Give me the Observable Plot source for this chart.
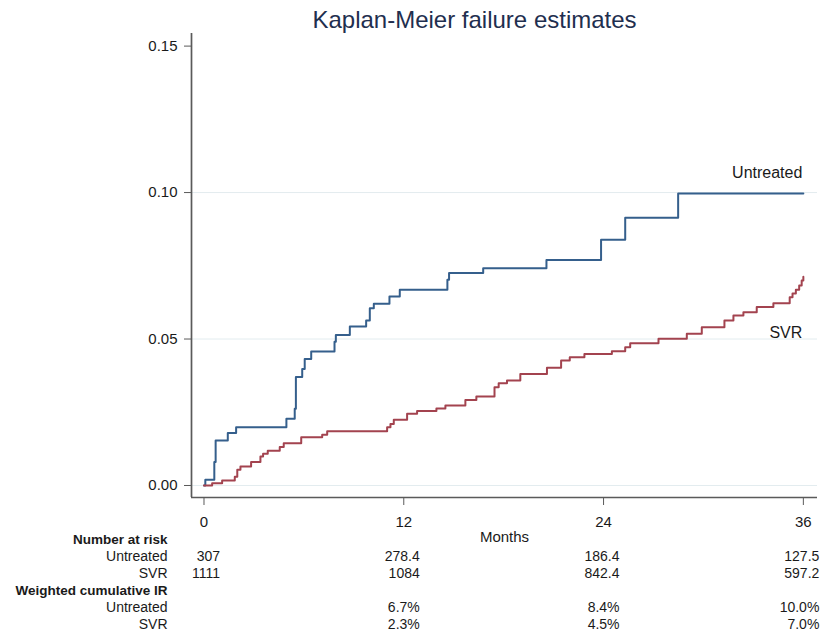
<!DOCTYPE html>
<html><head><meta charset="utf-8">
<script src="https://cdn.jsdelivr.net/npm/d3@7"></script>
<script src="https://cdn.jsdelivr.net/npm/@observablehq/plot@0.6"></script>
<style>body{margin:0;background:#fff} #chart{position:absolute;left:0;top:0}</style>
</head><body><div id="chart"></div>
<script>
// ---- data ----
const untreatedMonths = [0, 0.08, 0.62, 0.70, 1.43, 1.93, 4.95, 5.45, 5.52, 5.90, 6.05, 6.44, 7.84, 7.92, 8.76, 9.74, 9.96, 10.20, 11.14, 11.76, 14.62, 14.72, 16.77, 20.57, 23.85, 25.30, 28.48, 36.00];
const untreatedFailure = [0, 0.002, 0.008, 0.0154, 0.0179, 0.0199, 0.0228, 0.0262, 0.0370, 0.0398, 0.0432, 0.0457, 0.0491, 0.0514, 0.0543, 0.0563, 0.0605, 0.0620, 0.0645, 0.0668, 0.0702, 0.0725, 0.0742, 0.0770, 0.0839, 0.0914, 0.0997, 0.0997];
const svrMonths = [0, 0.49, 1.09, 1.85, 2.00, 2.19, 2.83, 3.39, 3.55, 3.83, 4.55, 4.79, 5.84, 7.10, 7.40, 11.00, 11.20, 11.40, 12.20, 12.80, 13.96, 14.50, 15.70, 16.36, 17.45, 17.70, 18.20, 19.00, 20.60, 21.45, 21.97, 22.85, 24.50, 25.30, 25.60, 27.30, 29.00, 29.90, 31.26, 31.80, 32.40, 33.20, 34.20, 35.18, 35.35, 35.55, 35.75, 35.90, 36.00];
const svrFailure = [0, 0.0008, 0.0017, 0.0030, 0.0054, 0.0065, 0.0080, 0.0099, 0.0108, 0.0119, 0.0131, 0.0144, 0.0165, 0.0173, 0.0185, 0.0199, 0.0210, 0.0224, 0.0245, 0.0254, 0.0263, 0.0273, 0.0292, 0.0304, 0.0335, 0.0349, 0.0358, 0.0381, 0.0402, 0.0427, 0.0438, 0.0449, 0.0458, 0.0472, 0.0486, 0.0501, 0.0518, 0.0540, 0.0563, 0.0580, 0.0591, 0.0609, 0.0622, 0.0643, 0.0655, 0.0668, 0.0683, 0.0700, 0.0713];
const seriesNames = ["Untreated", "SVR"];
const labelMonths = [36, 36];
const labelValues = [0.1068, 0.0522];
const yTicks = [0, 0.05, 0.10, 0.15];
const gridTicks = [0, 0.05, 0.10];
const xTicks = [0, 12, 24, 36];
const riskMonths = [0, 12, 24, 36];
const riskUntreated = ["307", "278.4", "186.4", "127.5"];
const riskSVR = ["1111", "1084", "842.4", "597.2"];
const irMonths = [12, 24, 36];
const irUntreated = ["6.7%", "8.4%", "10.0%"];
const irSVR = ["2.3%", "4.5%", "7.0%"];
const rowLabels = ["Number at risk", "Untreated", "SVR", "Weighted cumulative IR", "Untreated", "SVR"];
const rowBold = [true, false, false, true, false, false];
const titleText = "Kaplan-Meier failure estimates";
const xLabel = "Months";

// ---- build tables ----
const lineData = [
  ...untreatedMonths.map((m, i) => ({series: "Untreated", month: m, value: untreatedFailure[i]})),
  ...svrMonths.map((m, i) => ({series: "SVR", month: m, value: svrFailure[i]}))
];
const labels = seriesNames.map((s, i) => ({series: s, month: labelMonths[i], value: labelValues[i]}));

const font = "'Liberation Sans', Arial, Helvetica, sans-serif";
const xDomain = [-0.75, 36.85];
const yDomain = [-0.0041, 0.1543];
const rowDy = [42, 59, 76, 93, 110, 127];
const axisColor = "#5a5a5a";
const textColor = "#1a1a1a";

const rowLabelMarks = rowLabels.map((t, i) => Plot.text([t], {
  frameAnchor: "bottom-left", dx: -24, dy: rowDy[i], textAnchor: "end", lineAnchor: "middle",
  fontSize: rowBold[i] ? 13.5 : 14, fontWeight: rowBold[i] ? "bold" : "normal", fill: textColor
}));
const valueRows = [
  [riskMonths, riskUntreated, rowDy[1]],
  [riskMonths, riskSVR, rowDy[2]],
  [irMonths, irUntreated, rowDy[4]],
  [irMonths, irSVR, rowDy[5]]
];
const valueMarks = valueRows.map(([ms, vs, dy]) => Plot.text(ms.map((m, i) => ({m, v: vs[i]})), {
  x: "m", text: "v", frameAnchor: "bottom", dx: 16, dy, textAnchor: "end", lineAnchor: "middle",
  fontSize: 14, fill: textColor
}));

const chart = Plot.plot({
  width: 827, height: 633,
  marginLeft: 191, marginRight: 10, marginTop: 33, marginBottom: 136,
  style: {fontFamily: font, background: "#fff", overflow: "visible"},
  x: {domain: xDomain},
  y: {domain: yDomain},
  color: {domain: seriesNames, range: ["#355f8c", "#a3434f"]},
  marks: [
    Plot.gridY(gridTicks, {stroke: "#e3ecef", strokeOpacity: 1, strokeWidth: 1}),
    Plot.line(lineData, {x: "month", y: "value", z: "series", stroke: "series", curve: "step-after", strokeWidth: 2}),
    Plot.ruleX([xDomain[0]], {stroke: axisColor, strokeWidth: 1.7}),
    Plot.ruleY([yDomain[0]], {stroke: axisColor, strokeWidth: 1.7}),
    Plot.axisY(yTicks, {tickFormat: d3.format(".2f"), tickSize: 7, tickPadding: 7, fontSize: 15, stroke: axisColor, fill: textColor, label: null}),
    Plot.axisX(xTicks, {tickSize: 8, tickPadding: 11, fontSize: 15, stroke: axisColor, fill: textColor, label: null}),
    Plot.text(labels, {x: "month", y: "value", text: "series", textAnchor: "end", dx: -1, fontSize: 16, fill: textColor}),
    Plot.text([xLabel], {frameAnchor: "bottom", dy: 40, lineAnchor: "middle", fontSize: 15, fill: textColor}),
    Plot.text([titleText], {frameAnchor: "top", dx: -30, dy: -13, lineAnchor: "middle", fontSize: 24, fill: "#1f2f4f"}),
    ...rowLabelMarks,
    ...valueMarks
  ]
});
document.getElementById("chart").appendChild(chart);
</script>
</body></html>
